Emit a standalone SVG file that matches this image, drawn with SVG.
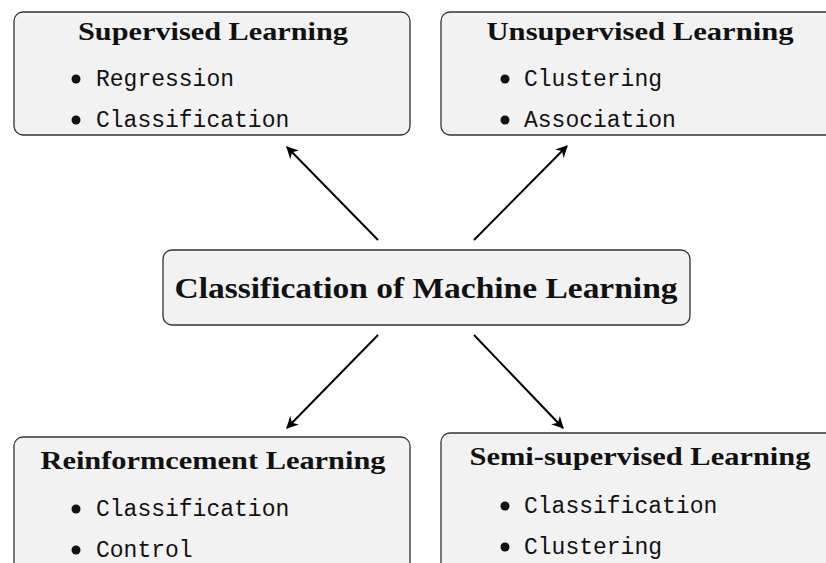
<svg xmlns="http://www.w3.org/2000/svg" width="826" height="563" viewBox="0 0 826 563">
<style>
.box{fill:#f2f2f2;stroke:#333;stroke-width:1.3}
.title{font-family:"Liberation Serif","DejaVu Serif",serif;font-weight:bold;font-size:26px;fill:#111;text-anchor:middle}
.big{font-family:"Liberation Serif","DejaVu Serif",serif;font-weight:bold;font-size:29px;fill:#111;text-anchor:middle}
.item{font-family:"Liberation Mono","DejaVu Sans Mono",monospace;font-size:23px;fill:#111}
.bul{fill:#111}
.conn{stroke:#000;stroke-width:2;fill:none;marker-end:url(#ah)}
</style>
<defs>
<marker id="ah" viewBox="0 0 10 10" refX="9" refY="5" markerWidth="6" markerHeight="6" orient="auto" markerUnits="strokeWidth">
<path d="M0,0 L10,5 L0,10 L3,5 z" fill="#000"/>
</marker>
</defs>
<rect width="826" height="563" fill="#fff"/>
<g id="supervised">
<rect class="box" x="14" y="12" width="396" height="123" rx="9"/>
<text class="title" x="213" y="40" textLength="270" lengthAdjust="spacingAndGlyphs">Supervised Learning</text>
<circle class="bul" cx="76" cy="79" r="4.5"/><text class="item" x="96" y="86">Regression</text>
<circle class="bul" cx="76" cy="120" r="4.5"/><text class="item" x="96" y="127">Classification</text>
</g>
<g id="unsupervised">
<rect class="box" x="441" y="12" width="395" height="123" rx="9"/>
<text class="title" x="640" y="40" textLength="307" lengthAdjust="spacingAndGlyphs">Unsupervised Learning</text>
<circle class="bul" cx="505" cy="79" r="4.5"/><text class="item" x="524" y="86">Clustering</text>
<circle class="bul" cx="505" cy="120" r="4.5"/><text class="item" x="524" y="127">Association</text>
</g>
<g id="center">
<rect class="box" x="163" y="250" width="527" height="75" rx="9"/>
<text class="big" x="426" y="298" textLength="503" lengthAdjust="spacingAndGlyphs">Classification of Machine Learning</text>
</g>
<g id="reinforcement">
<rect class="box" x="14" y="437" width="396" height="135" rx="9"/>
<text class="title" x="213" y="469" textLength="345" lengthAdjust="spacingAndGlyphs">Reinformcement Learning</text>
<circle class="bul" cx="76" cy="509" r="4.5"/><text class="item" x="96" y="516">Classification</text>
<circle class="bul" cx="76" cy="550" r="4.5"/><text class="item" x="96" y="557">Control</text>
</g>
<g id="semisupervised">
<rect class="box" x="441" y="433" width="395" height="140" rx="9"/>
<text class="title" x="640" y="465" textLength="341" lengthAdjust="spacingAndGlyphs">Semi-supervised Learning</text>
<circle class="bul" cx="505" cy="506" r="4.5"/><text class="item" x="524" y="513">Classification</text>
<circle class="bul" cx="505" cy="547" r="4.5"/><text class="item" x="524" y="554">Clustering</text>
</g>
<g id="connectors">
<line class="conn" x1="378" y1="240" x2="287" y2="147"/>
<line class="conn" x1="474" y1="240" x2="567" y2="146"/>
<line class="conn" x1="378" y1="335" x2="287" y2="428"/>
<line class="conn" x1="474" y1="335" x2="563" y2="428"/>
</g>
</svg>
